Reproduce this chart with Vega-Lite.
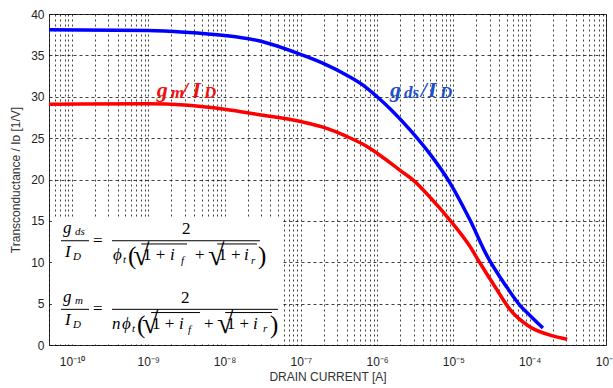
{
  "$schema": "https://vega.github.io/schema/vega-lite/v6.json",
  "width": 557,
  "height": 331,
  "autosize": {"type": "none"},
  "padding": {"left": 49, "top": 14, "right": 7, "bottom": 43},
  "background": "white",
  "config": {
    "view": {"stroke": "#333", "strokeWidth": 1},
    "text": {"font": "Liberation Serif"}
  },
  "datasets": {
    "curves": [
      {"series": "gds/ID", "x": 5e-11, "y": 38.1},
      {"series": "gds/ID", "x": 1e-9, "y": 38.0},
      {"series": "gds/ID", "x": 3e-9, "y": 37.8},
      {"series": "gds/ID", "x": 1e-8, "y": 37.4},
      {"series": "gds/ID", "x": 3e-8, "y": 36.7},
      {"series": "gds/ID", "x": 1e-7, "y": 35.1},
      {"series": "gds/ID", "x": 2e-7, "y": 34.0},
      {"series": "gds/ID", "x": 4e-7, "y": 32.6},
      {"series": "gds/ID", "x": 7e-7, "y": 31.2},
      {"series": "gds/ID", "x": 1e-6, "y": 30.0},
      {"series": "gds/ID", "x": 1.5e-6, "y": 28.5},
      {"series": "gds/ID", "x": 2.7e-6, "y": 26.0},
      {"series": "gds/ID", "x": 5e-6, "y": 23.0},
      {"series": "gds/ID", "x": 9e-6, "y": 19.6},
      {"series": "gds/ID", "x": 1.65e-5, "y": 15.1},
      {"series": "gds/ID", "x": 2.75e-5, "y": 10.8},
      {"series": "gds/ID", "x": 5e-5, "y": 7.0},
      {"series": "gds/ID", "x": 7.45e-5, "y": 4.8},
      {"series": "gds/ID", "x": 1.0e-4, "y": 3.6},
      {"series": "gds/ID", "x": 1.49e-4, "y": 2.05},
      {"series": "gm/ID", "x": 5e-11, "y": 29.1},
      {"series": "gm/ID", "x": 1e-9, "y": 29.15},
      {"series": "gm/ID", "x": 3e-9, "y": 29.0},
      {"series": "gm/ID", "x": 1e-8, "y": 28.5},
      {"series": "gm/ID", "x": 3e-8, "y": 27.8},
      {"series": "gm/ID", "x": 1e-7, "y": 27.0},
      {"series": "gm/ID", "x": 2e-7, "y": 26.3},
      {"series": "gm/ID", "x": 4e-7, "y": 25.2},
      {"series": "gm/ID", "x": 7e-7, "y": 24.1},
      {"series": "gm/ID", "x": 1.1e-6, "y": 22.9},
      {"series": "gm/ID", "x": 2e-6, "y": 21.1},
      {"series": "gm/ID", "x": 3e-6, "y": 19.9},
      {"series": "gm/ID", "x": 5e-6, "y": 17.8},
      {"series": "gm/ID", "x": 9e-6, "y": 15.1},
      {"series": "gm/ID", "x": 1.65e-5, "y": 11.9},
      {"series": "gm/ID", "x": 2.2e-5, "y": 10.0},
      {"series": "gm/ID", "x": 3.7e-5, "y": 6.7},
      {"series": "gm/ID", "x": 5.5e-5, "y": 4.3},
      {"series": "gm/ID", "x": 1.0e-4, "y": 2.2},
      {"series": "gm/ID", "x": 2.0e-4, "y": 1.1},
      {"series": "gm/ID", "x": 3.1e-4, "y": 0.7}
    ],
    "labels": [
      {"series": "gm/ID", "role": "main", "t": "g", "x": 1.29e-9, "y": 29.97},
      {"series": "gm/ID", "role": "sub", "t": "m", "x": 1.968e-9, "y": 29.85},
      {"series": "gm/ID", "role": "main", "t": "/", "x": 2.743e-9, "y": 29.97},
      {"series": "gm/ID", "role": "main", "t": "I", "x": 3.776e-9, "y": 29.97},
      {"series": "gm/ID", "role": "sub", "t": "D", "x": 5.376e-9, "y": 29.85},
      {"series": "gds/ID", "role": "main", "t": "g", "x": 1.47e-6, "y": 29.97},
      {"series": "gds/ID", "role": "sub", "t": "ds", "x": 2.247e-6, "y": 29.85},
      {"series": "gds/ID", "role": "main", "t": "/", "x": 3.72e-6, "y": 29.97},
      {"series": "gds/ID", "role": "main", "t": "I", "x": 4.63e-6, "y": 29.97},
      {"series": "gds/ID", "role": "sub", "t": "D", "x": 6.65e-6, "y": 29.85}
    ],
    "box": [
      {"x": 5.47e-11, "x2": 5.83e-8, "y": 0.36, "y2": 15.35}
    ],
    "bars": [
      {"x": 7.18e-11, "x2": 1.672e-10, "y": 12.6},
      {"x": 3.346e-10, "x2": 2.913e-8, "y": 12.6},
      {"x": 8.1e-10, "x2": 3.218e-9, "y": 12.21},
      {"x": 8.0e-9, "x2": 2.661e-8, "y": 12.21},
      {"x": 7.18e-11, "x2": 1.672e-10, "y": 4.31},
      {"x": 3.346e-10, "x2": 5.01e-8, "y": 4.31},
      {"x": 1.09e-9, "x2": 4.764e-9, "y": 3.92},
      {"x": 1.02e-8, "x2": 4.183e-8, "y": 3.92}
    ],
    "eq": [
      {"role": "it", "t": "g", "x": 7.63e-11, "y": 13.5},
      {"role": "sub", "t": "ds", "x": 1.096e-10, "y": 13.3},
      {"role": "it", "t": "I", "x": 8.1e-11, "y": 10.67},
      {"role": "sub", "t": "D", "x": 1.031e-10, "y": 10.3},
      {"role": "up", "t": "=", "x": 1.887e-10, "y": 11.96},
      {"role": "up", "t": "2", "x": 2.768e-9, "y": 13.41},
      {"role": "it", "t": "ϕ", "x": 3.449e-10, "y": 10.27},
      {"role": "sub", "t": "t", "x": 4.665e-10, "y": 9.9},
      {"role": "del", "t": "(", "x": 5.425e-10, "y": 9.8},
      {"role": "root", "t": "√", "x": 6.306e-10, "y": 9.7},
      {"role": "up", "t": "1 +", "x": 8.53e-10, "y": 10.27},
      {"role": "it", "t": "i", "x": 1.927e-9, "y": 10.27},
      {"role": "sub", "t": "f", "x": 2.685e-9, "y": 9.8},
      {"role": "up", "t": "+", "x": 4.097e-9, "y": 10.27},
      {"role": "root", "t": "√", "x": 6.066e-9, "y": 9.7},
      {"role": "up", "t": "1 +", "x": 8.3e-9, "y": 10.27},
      {"role": "it", "t": "i", "x": 1.798e-8, "y": 10.27},
      {"role": "sub", "t": "r", "x": 2.22e-8, "y": 9.8},
      {"role": "del", "t": ")", "x": 2.743e-8, "y": 9.8},
      {"role": "it", "t": "g", "x": 7.63e-11, "y": 5.24},
      {"role": "sub", "t": "m", "x": 1.096e-10, "y": 5.0},
      {"role": "it", "t": "I", "x": 8.1e-11, "y": 2.38},
      {"role": "sub", "t": "D", "x": 1.031e-10, "y": 2.0},
      {"role": "up", "t": "=", "x": 1.887e-10, "y": 3.71},
      {"role": "up", "t": "2", "x": 2.685e-9, "y": 5.12},
      {"role": "it", "t": "n", "x": 3.346e-10, "y": 1.98},
      {"role": "it", "t": "ϕ", "x": 4.523e-10, "y": 1.98},
      {"role": "sub", "t": "t", "x": 6.118e-10, "y": 1.62},
      {"role": "del", "t": "(", "x": 7.115e-10, "y": 1.5},
      {"role": "root", "t": "√", "x": 8.277e-10, "y": 1.4},
      {"role": "up", "t": "1 +", "x": 1.119e-9, "y": 1.98},
      {"role": "it", "t": "i", "x": 2.528e-9, "y": 1.98},
      {"role": "sub", "t": "f", "x": 3.317e-9, "y": 1.5},
      {"role": "up", "t": "+", "x": 5.376e-9, "y": 1.98},
      {"role": "root", "t": "√", "x": 7.957e-9, "y": 1.4},
      {"role": "up", "t": "1 +", "x": 1.07e-8, "y": 1.98},
      {"role": "it", "t": "i", "x": 2.36e-8, "y": 1.98},
      {"role": "sub", "t": "r", "x": 3.189e-8, "y": 1.62},
      {"role": "del", "t": ")", "x": 3.94e-8, "y": 1.5}
    ]
  },
  "encoding": {
    "x": {
      "field": "x",
      "type": "quantitative",
      "scale": {"type": "log", "domain": [5e-11, 1e-3], "nice": false},
      "axis": {
        "title": "DRAIN CURRENT [A]",
        "titleFont": "Liberation Sans",
        "titleFontSize": 12,
        "titleFontWeight": "normal",
        "titleColor": "#333",
        "titlePadding": 4,
        "values": [5e-11, 6e-11, 7e-11, 8e-11, 9e-11,
          1e-10, 2e-10, 3e-10, 4e-10, 5e-10, 6e-10, 7e-10, 8e-10, 9e-10,
          1e-9, 2e-9, 3e-9, 4e-9, 5e-9, 6e-9, 7e-9, 8e-9, 9e-9,
          1e-8, 2e-8, 3e-8, 4e-8, 5e-8, 6e-8, 7e-8, 8e-8, 9e-8,
          1e-7, 2e-7, 3e-7, 4e-7, 5e-7, 6e-7, 7e-7, 8e-7, 9e-7,
          1e-6, 2e-6, 3e-6, 4e-6, 5e-6, 6e-6, 7e-6, 8e-6, 9e-6,
          1e-5, 2e-5, 3e-5, 4e-5, 5e-5, 6e-5, 7e-5, 8e-5, 9e-5,
          1e-4, 2e-4, 3e-4, 4e-4, 5e-4, 6e-4, 7e-4, 8e-4, 9e-4, 1e-3],
        "labelExpr": "datum.value == 1e-10 ? '10⁻¹⁰' : datum.value == 1e-9 ? '10⁻⁹' : datum.value == 1e-8 ? '10⁻⁸' : datum.value == 1e-7 ? '10⁻⁷' : datum.value == 1e-6 ? '10⁻⁶' : datum.value == 1e-5 ? '10⁻⁵' : datum.value == 1e-4 ? '10⁻⁴' : datum.value == 1e-3 ? '10⁻³' : ''",
        "labelOverlap": false,
        "labelFlush": false,
        "labelFont": "Liberation Sans",
        "labelFontSize": 12,
        "labelColor": "#222",
        "labelPadding": 11,
        "ticks": false,
        "domain": false,
        "grid": true,
        "gridColor": "#000",
        "gridOpacity": 0.75,
        "gridDash": [2, 3],
        "gridWidth": 1
      }
    },
    "y": {
      "field": "y",
      "type": "quantitative",
      "scale": {"domain": [0, 40], "nice": false},
      "axis": {
        "title": "Transconductance / Iᴅ [1/V]",
        "titleFont": "Liberation Sans",
        "titleFontSize": 12,
        "titleFontWeight": "normal",
        "titleColor": "#333",
        "titlePadding": 8,
        "values": [0, 5, 10, 15, 20, 25, 30, 35, 40],
        "labelFont": "Liberation Sans",
        "labelFontSize": 12,
        "labelColor": "#222",
        "labelPadding": 5,
        "ticks": false,
        "domain": false,
        "grid": true,
        "gridColor": "#000",
        "gridOpacity": 0.75,
        "gridDash": [3, 3],
        "gridWidth": 1
      }
    }
  },
  "layer": [
    {
      "data": {"name": "box"},
      "mark": {"type": "rect", "fill": "white", "stroke": null},
      "encoding": {"x2": {"field": "x2"}, "y2": {"field": "y2"}}
    },
    {
      "data": {"name": "bars"},
      "mark": {"type": "rule", "color": "black", "strokeWidth": 1},
      "encoding": {"x2": {"field": "x2"}}
    },
    {
      "data": {"name": "eq"},
      "transform": [{"filter": "datum.role == 'it'"}],
      "mark": {"type": "text", "align": "left", "baseline": "alphabetic", "fontSize": 17, "fontStyle": "italic", "color": "black"},
      "encoding": {"text": {"field": "t"}}
    },
    {
      "data": {"name": "eq"},
      "transform": [{"filter": "datum.role == 'up'"}],
      "mark": {"type": "text", "align": "left", "baseline": "alphabetic", "fontSize": 17, "color": "black"},
      "encoding": {"text": {"field": "t"}}
    },
    {
      "data": {"name": "eq"},
      "transform": [{"filter": "datum.role == 'sub'"}],
      "mark": {"type": "text", "align": "left", "baseline": "alphabetic", "fontSize": 11, "fontStyle": "italic", "color": "black"},
      "encoding": {"text": {"field": "t"}}
    },
    {
      "data": {"name": "eq"},
      "transform": [{"filter": "datum.role == 'del'"}],
      "mark": {"type": "text", "align": "left", "baseline": "alphabetic", "fontSize": 25, "color": "black"},
      "encoding": {"text": {"field": "t"}}
    },
    {
      "data": {"name": "eq"},
      "transform": [{"filter": "datum.role == 'root'"}],
      "mark": {"type": "text", "align": "left", "baseline": "alphabetic", "fontSize": 30, "color": "black"},
      "encoding": {"text": {"field": "t"}}
    },
    {
      "data": {"name": "curves"},
      "mark": {"type": "line", "strokeWidth": 3.5, "interpolate": "monotone"},
      "encoding": {
        "color": {"field": "series", "type": "nominal", "scale": {"domain": ["gds/ID", "gm/ID"], "range": ["#0000ff", "#ff0000"]}, "legend": null}
      }
    },
    {
      "layer": [
        {
          "data": {"name": "labels"},
          "transform": [{"filter": "datum.role == 'main'"}],
          "mark": {"type": "text", "align": "left", "baseline": "alphabetic", "fontSize": 22, "fontStyle": "italic", "fontWeight": "bold"},
          "encoding": {
            "text": {"field": "t"},
            "color": {"field": "series", "type": "nominal", "scale": {"domain": ["gds/ID", "gm/ID"], "range": ["#2050c8", "#f01010"]}, "legend": null}
          }
        },
        {
          "data": {"name": "labels"},
          "transform": [{"filter": "datum.role == 'sub'"}],
          "mark": {"type": "text", "align": "left", "baseline": "alphabetic", "fontSize": 17, "fontStyle": "italic", "fontWeight": "bold"},
          "encoding": {
            "text": {"field": "t"},
            "color": {"field": "series", "type": "nominal", "scale": {"domain": ["gds/ID", "gm/ID"], "range": ["#2050c8", "#f01010"]}, "legend": null}
          }
        }
      ]
    }
  ],
  "resolve": {"scale": {"color": "independent"}}
}
